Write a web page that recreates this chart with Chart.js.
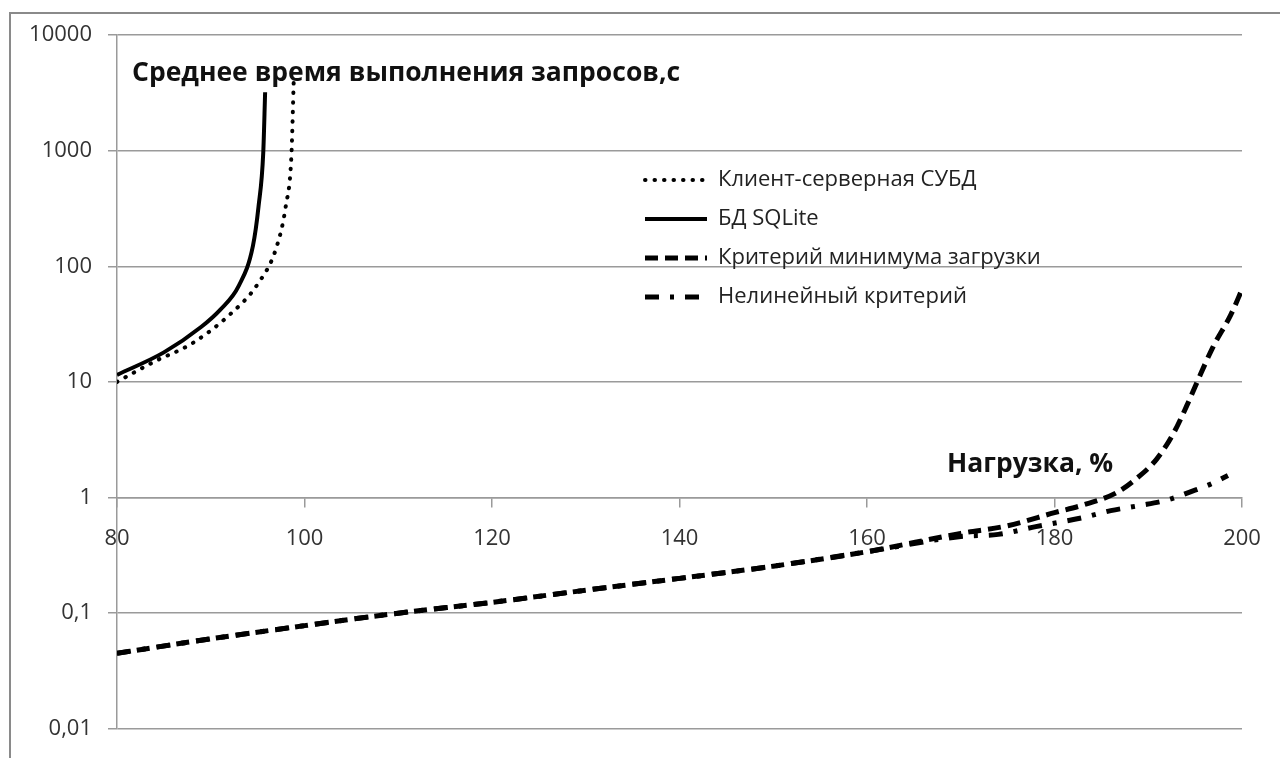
<!DOCTYPE html>
<html>
<head>
  <meta charset="utf-8">
  <title>Среднее время выполнения запросов</title>
  <script src="https://cdn.jsdelivr.net/npm/chart.js"></script>
  <style>
    html, body { margin: 0; padding: 0; background: #fff; }
    #wrap { position: relative; width: 1280px; height: 758px; overflow: hidden; }
    #frame { position: absolute; left: 9px; top: 12px; width: 1300px; height: 800px;
             border-left: 2px solid #8a8a8a; border-top: 2px solid #8a8a8a; }
    .lbl { position: absolute; font-family: "Open Sans", sans-serif; font-weight: bold;
           font-size: 26.5px; color: #111; white-space: nowrap; line-height: 1; }
  </style>
</head>
<body>
  <div id="wrap">
    <div id="frame"></div>
    <canvas id="chart" width="1280" height="758"></canvas>
    <div class="lbl" id="title" style="left:132px; top:58px;">Среднее время выполнения запросов,с</div>
    <div class="lbl" id="xtitle" style="left:947px; top:449px;">Нагрузка, %</div>
  </div>

  <script>
    var seriesNames = ["Клиент-серверная СУБД", "БД SQLite", "Критерий минимума загрузки", "Нелинейный критерий"];

    var clientX = [80, 84, 88, 92, 95, 97, 98, 98.6, 98.85];
    var clientY = [10, 15, 21.5, 38, 70, 145, 330, 900, 4000];

    var sqliteX = [80, 85, 89, 91, 93, 94.5, 95.1, 95.6, 95.8];
    var sqliteY = [11.5, 18, 30, 42, 68, 150, 330, 960, 3200];

    var minLoadX = [80, 90, 100, 110, 120, 130, 140, 150, 160, 170, 175, 180, 183, 186.6, 188.7, 190.9, 192.7, 194.1, 195.1, 196.9, 198.8, 200];
    var minLoadY = [0.045, 0.06, 0.078, 0.1, 0.124, 0.158, 0.2, 0.255, 0.34, 0.49, 0.57, 0.74, 0.86, 1.1, 1.45, 2.15, 3.6, 6.2, 9.5, 20, 38, 63];

    var nonlinX = [80, 90, 100, 110, 120, 130, 140, 150, 160, 170, 174, 178, 183, 186, 189, 192, 194.5, 196.6, 198.5];
    var nonlinY = [0.045, 0.06, 0.078, 0.1, 0.124, 0.158, 0.2, 0.255, 0.34, 0.46, 0.48, 0.56, 0.67, 0.77, 0.85, 0.95, 1.12, 1.3, 1.55];

    var xTicks = [80, 100, 120, 140, 160, 180, 200];
    var yTicks = [0.01, 0.1, 1, 10, 100, 1000, 10000];
    var yTickLabels = ["0,01", "0,1", "1", "10", "100", "1000", "10000"];

    function pts(xs, ys) {
      return xs.map(function (x, i) { return { x: x, y: ys[i] }; });
    }

    var gridColor = "#9a9a9a";
    var tickFont = { family: "Open Sans", size: 22 };

    // легенда внутри области построения
    var legendPlace = {
      id: "legendPlace",
      afterLayout: function (chart) {
        var lg = chart.legend;
        if (!lg) return;
        var w = lg.width, h = lg.height;
        lg.left = 628; lg.top = 152;
        lg.right = lg.left + w; lg.bottom = lg.top + h;
      }
    };

    var ctx = document.getElementById("chart").getContext("2d");
    new Chart(ctx, {
      type: "line",
      data: {
        datasets: [{
          label: seriesNames[0],
          data: pts(clientX, clientY),
          borderColor: "#000",
          borderWidth: 4,
          borderDash: [0.5, 9],
          borderCapStyle: "round",
          cubicInterpolationMode: "monotone"
        }, {
          label: seriesNames[1],
          data: pts(sqliteX, sqliteY),
          borderColor: "#000",
          borderWidth: 4,
          cubicInterpolationMode: "monotone"
        }, {
          label: seriesNames[2],
          data: pts(minLoadX, minLoadY),
          borderColor: "#000",
          borderWidth: 5,
          borderDash: [13, 7],
          cubicInterpolationMode: "monotone"
        }, {
          label: seriesNames[3],
          data: pts(nonlinX, nonlinY),
          borderColor: "#000",
          borderWidth: 5,
          borderDash: [14, 11, 4, 11],
          cubicInterpolationMode: "monotone"
        }]
      },
      options: {
        responsive: false,
        animation: false,
        devicePixelRatio: 1,
        elements: { point: { radius: 0 } },
        layout: { padding: { left: 0, top: 35, right: 38, bottom: 21 } },
        scales: {
          x: {
            type: "linear",
            min: 80,
            max: 200,
            position: { y: 1 },
            afterBuildTicks: function (scale) {
              scale.ticks = xTicks.map(function (v) { return { value: v }; });
            },
            grid: { drawOnChartArea: false, color: gridColor, lineWidth: 1.5, tickLength: 9 },
            border: { display: true, color: gridColor, width: 1.5 },
            ticks: { font: tickFont, color: "#333", padding: 19, maxRotation: 0 }
          },
          y: {
            type: "logarithmic",
            min: 0.01,
            max: 10000,
            afterBuildTicks: function (scale) {
              scale.ticks = yTicks.map(function (v) { return { value: v }; });
            },
            afterFit: function (scale) { scale.width = 117; },
            grid: { color: gridColor, lineWidth: 1.5, tickLength: 9 },
            border: { display: true, color: gridColor, width: 1.5 },
            ticks: {
              font: tickFont,
              color: "#333",
              padding: 16,
              callback: function (v) {
                var i = yTicks.indexOf(v);
                return i >= 0 ? yTickLabels[i] : "";
              }
            }
          }
        },
        plugins: {
          title: { display: false },
          tooltip: { enabled: false },
          legend: {
            display: true,
            position: "chartArea",
            align: "start",
            labels: {
              usePointStyle: true,
              pointStyle: "line",
              pointStyleWidth: 62,
              font: { family: "Open Sans", size: 22 },
              color: "#222",
              padding: 17,
              generateLabels: function (chart) {
                var items = Chart.defaults.plugins.legend.labels.generateLabels(chart);
                items.forEach(function (it) {
                  var ds = chart.data.datasets[it.datasetIndex];
                  it.lineDash = ds.borderDash || [];
                  it.lineCap = ds.borderCapStyle || "butt";
                  it.lineWidth = ds.borderWidth;
                });
                return items;
              }
            }
          }
        }
      },
      plugins: [legendPlace]
    });
  </script>
</body>
</html>
